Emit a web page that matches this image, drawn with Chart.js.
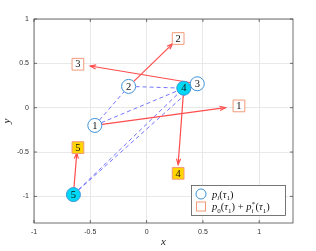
<!DOCTYPE html>
<html>
<head>
<meta charset="utf-8">
<script src="https://cdn.jsdelivr.net/npm/chart.js@4.4.1/dist/chart.umd.min.js"></script>
<style>
  html, body { margin: 0; padding: 0; background: #fff; }
  #wrap { width: 316px; height: 251px; }
</style>
</head>
<body>
<div id="wrap"><canvas id="agentChart"></canvas></div>
<script>
// positions p_i(tau_1)
const pointLabels = ['1', '2', '3', '4', '5'];
const pX = [-0.46, -0.16, 0.45, 0.33, -0.65];
const pY = [-0.20, 0.24, 0.27, 0.22, -0.98];
const filled = [false, false, false, true, true];

// targets p_0(tau_1) + p_i*(tau_1)
const qX = [0.82, 0.28, -0.61, 0.28, -0.61];
const qY = [0.02, 0.78, 0.49, -0.74, -0.45];

// arrow tips (arrows start at p_i)
const tipX = [0.70, 0.23, -0.50, 0.28, -0.62];
const tipY = [0.00, 0.72, 0.47, -0.64, -0.51];

// dashed links between agents (indices)
const links = [[0, 1], [0, 3], [1, 3], [4, 3], [4, 2]];

const xTicks = [-1, -0.5, 0, 0.5, 1];
const yTicks = [-1, -0.5, 0, 0.5, 1];

const circleEdge = '#3d93d8';
const squareEdge = '#f29a78';

// lignes pointillées + flèches sous les marqueurs
const linesPlugin = {
    id: 'linesPlugin',
    beforeDatasetsDraw(chart) {
        const { ctx, scales: { x, y } } = chart;
        ctx.save();
        ctx.strokeStyle = 'rgba(50,50,255,0.85)';
        ctx.lineWidth = 0.8;
        ctx.setLineDash([4, 3]);
        links.forEach(([a, b]) => {
            ctx.beginPath();
            ctx.moveTo(x.getPixelForValue(pX[a]), y.getPixelForValue(pY[a]));
            ctx.lineTo(x.getPixelForValue(pX[b]), y.getPixelForValue(pY[b]));
            ctx.stroke();
        });
        ctx.setLineDash([]);
        for (let i = 0; i < pX.length; i++) {
            const x0 = x.getPixelForValue(pX[i]), y0 = y.getPixelForValue(pY[i]);
            const x1 = x.getPixelForValue(tipX[i]), y1 = y.getPixelForValue(tipY[i]);
            const ang = Math.atan2(y1 - y0, x1 - x0);
            ctx.strokeStyle = '#ff4d4d';
            ctx.lineWidth = 1.2;
            ctx.beginPath();
            ctx.moveTo(x0, y0);
            ctx.lineTo(x1, y1);
            ctx.stroke();
            ctx.beginPath();
            ctx.moveTo(x1 - 6 * Math.cos(ang - 0.35), y1 - 6 * Math.sin(ang - 0.35));
            ctx.lineTo(x1, y1);
            ctx.lineTo(x1 - 6 * Math.cos(ang + 0.35), y1 - 6 * Math.sin(ang + 0.35));
            ctx.stroke();
        }
        ctx.restore();
    }
};

// numéros, cadre, légende
const decoPlugin = {
    id: 'decoPlugin',
    afterDatasetsDraw(chart) {
        const { ctx, chartArea: a, scales: { x, y } } = chart;
        ctx.save();
        ctx.fillStyle = '#111';
        ctx.font = '10.5px "Liberation Serif", serif';
        ctx.textAlign = 'center';
        ctx.textBaseline = 'middle';
        [0, 1].forEach(d => {
            chart.getDatasetMeta(d).data.forEach((pt, i) => {
                ctx.fillText(pointLabels[i], pt.x, pt.y + 0.5);
            });
        });

        // cadre + graduations intérieures
        ctx.strokeStyle = '#4d4d4d';
        ctx.lineWidth = 0.8;
        ctx.strokeRect(a.left, a.top, a.right - a.left, a.bottom - a.top);
        ctx.beginPath();
        xTicks.forEach(v => {
            const px = x.getPixelForValue(v);
            ctx.moveTo(px, a.bottom); ctx.lineTo(px, a.bottom - 3);
            ctx.moveTo(px, a.top); ctx.lineTo(px, a.top + 3);
        });
        yTicks.forEach(v => {
            const py = y.getPixelForValue(v);
            ctx.moveTo(a.left, py); ctx.lineTo(a.left + 3, py);
            ctx.moveTo(a.right, py); ctx.lineTo(a.right - 3, py);
        });
        ctx.stroke();

        // légende
        const lx = 191, ly = 185, lw = 94, lh = 30;
        ctx.fillStyle = '#fff';
        ctx.fillRect(lx, ly, lw, lh);
        ctx.strokeStyle = '#555';
        ctx.strokeRect(lx + 0.5, ly + 0.5, lw, lh);

        ctx.lineWidth = 1;
        ctx.strokeStyle = circleEdge;
        ctx.beginPath();
        ctx.arc(lx + 10, ly + 9, 5, 0, Math.PI * 2);
        ctx.stroke();
        ctx.strokeStyle = squareEdge;
        ctx.strokeRect(lx + 5.5, ly + 17, 9, 9);

        const drawMath = (segs, sx, sy) => {
            let cx = sx;
            ctx.textAlign = 'left';
            ctx.textBaseline = 'alphabetic';
            ctx.fillStyle = '#111';
            segs.forEach(([t, kind, it, t2]) => {
                if (kind === 'stack') {
                    ctx.font = '7px "Liberation Serif", serif';
                    ctx.fillText(t, cx, sy - 4);
                    const w1 = ctx.measureText(t).width;
                    ctx.font = 'italic 7px "Liberation Serif", serif';
                    ctx.fillText(t2, cx, sy + 2.5);
                    cx += Math.max(w1, ctx.measureText(t2).width) + 0.5;
                    return;
                }
                const size = kind === 'n' ? 10.5 : 7;
                const dy = kind === 'sub' ? 2.5 : 0;
                ctx.font = (it ? 'italic ' : '') + size + 'px "Liberation Serif", serif';
                ctx.fillText(t, cx, sy + dy);
                cx += ctx.measureText(t).width;
            });
        };
        drawMath([['p', 'n', 1], ['i', 'sub', 1], ['(', 'n', 0], ['τ', 'n', 1], ['1', 'sub', 0], [')', 'n', 0]],
            lx + 21, ly + 12.5);
        drawMath([['p', 'n', 1], ['0', 'sub', 0], ['(', 'n', 0], ['τ', 'n', 1], ['1', 'sub', 0], [')', 'n', 0],
            [' + ', 'n', 0], ['p', 'n', 1], ['*', 'stack', 0, 'i'], ['(', 'n', 0], ['τ', 'n', 1], ['1', 'sub', 0], [')', 'n', 0]],
            lx + 21, ly + 25);
        ctx.restore();
    }
};

const circleData = pX.map((v, i) => ({ x: v, y: pY[i] }));
const squareData = qX.map((v, i) => ({ x: v, y: qY[i] }));

const ctx = document.getElementById('agentChart').getContext('2d');
const agentChart = new Chart(ctx, {
    type: 'scatter',
    data: {
        datasets: [{
            label: 'p_i(τ1)',
            data: circleData,
            pointStyle: 'circle',
            pointRadius: 7,
            pointBorderWidth: 1,
            pointBorderColor: circleEdge,
            pointBackgroundColor: filled.map(f => f ? '#00d9f5' : '#ffffff')
        }, {
            label: 'p_0(τ1)+p_i*(τ1)',
            data: squareData,
            pointStyle: 'rect',
            pointRadius: 8.3,
            pointBorderWidth: 1,
            pointBorderColor: squareEdge,
            pointBackgroundColor: filled.map(f => f ? '#ffd400' : '#ffffff')
        }]
    },
    options: {
        responsive: true,
        maintainAspectRatio: false,
        animation: false,
        layout: { padding: { left: 1, right: 23, top: 19, bottom: 1 } },
        plugins: {
            legend: { display: false },
            tooltip: { enabled: false }
        },
        scales: {
            x: {
                type: 'linear',
                min: -1,
                max: 1.3,
                afterBuildTicks: s => { s.ticks = xTicks.map(v => ({ value: v })); },
                afterFit: s => { s.height = 27; },
                grid: { color: '#e8e8e8', drawTicks: false },
                border: { display: false },
                ticks: {
                    padding: 5,
                    color: '#333',
                    font: { family: 'Liberation Sans', size: 7 },
                    callback: v => String(v)
                },
                title: {
                    display: true,
                    text: 'x',
                    color: '#222',
                    padding: { top: 0, bottom: 1 },
                    font: { family: 'Liberation Serif', style: 'italic', size: 11 }
                }
            },
            y: {
                type: 'linear',
                min: -1.3,
                max: 1,
                afterBuildTicks: s => { s.ticks = yTicks.map(v => ({ value: v })); },
                afterFit: s => { s.width = 33; },
                grid: { color: '#e8e8e8', drawTicks: false },
                border: { display: false },
                ticks: {
                    padding: 5,
                    color: '#333',
                    font: { family: 'Liberation Sans', size: 7 },
                    callback: v => String(v)
                },
                title: {
                    display: true,
                    text: 'y',
                    color: '#222',
                    padding: { top: 0, bottom: 0 },
                    font: { family: 'Liberation Serif', style: 'italic', size: 11 }
                }
            }
        }
    },
    plugins: [linesPlugin, decoPlugin]
});
</script>
</body>
</html>
